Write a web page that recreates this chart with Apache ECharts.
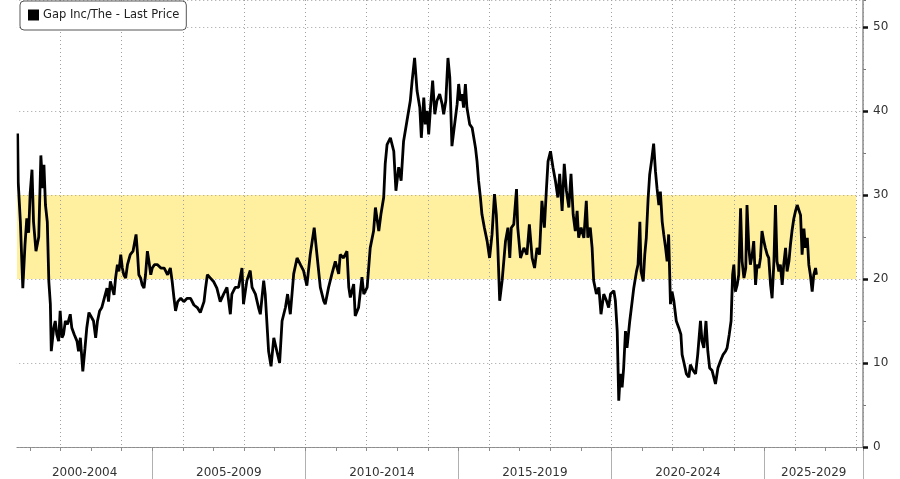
<!DOCTYPE html>
<html><head><meta charset="utf-8">
<script src="https://cdn.jsdelivr.net/npm/echarts@6/dist/echarts.min.js"></script>
<style>html,body{margin:0;padding:0;background:#fff;overflow:hidden}#c{width:900px;height:479px}</style>
</head><body><div id="c"></div>
<script>
const seriesName = 'Gap Inc/The - Last Price';
// decimal years of each reading
const dates = [
2000.60,2000.62,2000.69,2000.77,2000.84,2000.90,2000.96,2001.01,2001.07,2001.12,2001.20,2001.29,2001.36,2001.42,2001.46,2001.51,2001.57,2001.62,2001.67,2001.70,
2001.78,2001.83,2001.88,2001.94,2001.99,2002.05,2002.10,2002.16,2002.23,2002.32,2002.37,2002.45,2002.54,2002.59,2002.65,2002.69,2002.73,2002.80,2002.86,2002.93,
2002.99,2003.08,2003.15,2003.21,2003.28,2003.35,2003.43,2003.52,2003.57,2003.63,2003.69,2003.75,2003.80,2003.86,2003.91,2003.97,2004.02,2004.07,2004.13,2004.19,
2004.28,2004.37,2004.47,2004.52,2004.56,2004.62,2004.67,2004.73,2004.78,2004.84,2004.89,2004.95,2005.00,2005.07,2005.17,2005.28,2005.39,2005.50,2005.59,2005.65,
2005.71,2005.76,2005.83,2005.93,2006.03,2006.14,2006.25,2006.36,2006.47,2006.57,2006.63,2006.69,2006.74,2006.80,2006.90,2007.00,2007.11,2007.22,
2007.33,2007.44,2007.55,2007.60,2007.71,2007.82,2007.93,2007.98,2008.09,2008.20,2008.26,2008.37,2008.47,2008.53,2008.64,2008.69,2008.80,2008.88,2008.97,2009.07,
2009.16,2009.24,2009.35,2009.42,2009.51,2009.62,2009.73,2009.84,2009.94,2010.05,2010.16,2010.29,2010.38,2010.49,2010.60,2010.65,2010.76,2010.87,2010.98,2011.09,
2011.14,2011.25,2011.36,2011.42,2011.47,2011.58,2011.63,2011.74,2011.85,2011.91,2012.02,2012.12,2012.23,2012.29,2012.40,2012.47,2012.56,2012.61,2012.67,2012.78,
2012.89,2012.96,2013.05,2013.13,2013.21,2013.32,2013.43,2013.49,2013.57,2013.65,2013.74,
2013.79,2013.87,2013.92,2013.98,2014.03,2014.09,2014.16,2014.23,2014.30,2014.39,2014.47,2014.52,2014.59,2014.66,2014.72,2014.79,2014.85,2014.96,2015.01,2015.07,
2015.12,2015.17,2015.23,2015.28,2015.37,2015.45,2015.56,2015.61,2015.66,2015.72,2015.77,2015.85,2015.94,2016.02,2016.10,2016.18,2016.24,2016.29,2016.35,2016.43,
2016.54,2016.62,2016.68,2016.73,2016.81,2016.90,2016.94,2017.03,2017.14,2017.24,2017.32,2017.41,2017.49,2017.57,2017.65,2017.73,2017.81,2017.88,2017.93,2018.01,
2018.09,2018.17,2018.25,2018.31,2018.39,2018.46,2018.53,2018.61,2018.68,2018.75,2018.82,2018.88,2018.93,2019.01,2019.10,2019.18,2019.23,2019.31,2019.37,2019.42,
2019.51,2019.59,2019.66,2019.75,2019.84,2019.91,2019.97,2020.08,
2020.13,2020.19,2020.24,2020.29,2020.35,2020.40,2020.46,2020.51,2020.60,2020.68,2020.73,2020.82,2020.87,2020.93,2020.97,2021.04,2021.09,2021.14,2021.20,2021.25,
2021.31,2021.38,2021.44,2021.49,2021.55,2021.60,2021.66,2021.71,2021.77,2021.82,2021.87,2021.93,2021.98,2022.04,2022.12,2022.20,2022.27,2022.31,2022.36,2022.45,
2022.53,2022.58,2022.67,2022.75,2022.82,2022.91,2022.96,2023.02,2023.09,2023.15,2023.21,2023.29,2023.40,2023.48,2023.56,2023.65,2023.73,2023.78,2023.85,2023.91,
2023.96,2024.00,2024.05,2024.11,2024.16,2024.22,2024.27,2024.33,2024.39,2024.43,2024.49,2024.54,2024.60,2024.65,2024.71,2024.76,2024.82,2024.87,2024.92,2024.98,
2025.03,2025.09,2025.14,2025.20,2025.25,2025.31,2025.36,2025.41,2025.47,2025.52,2025.58,2025.63,2025.69,2025.74,2025.80,2025.85,2025.90,2025.96,2026.01,2026.07,
2026.12,2026.18,2026.23,2026.29,2026.34,2026.40,2026.45,2026.50,2026.56,2026.61,2026.67,2026.70
];
// last price (USD) at each reading
const prices = [
37.3,31.5,26.8,18.9,24.0,27.2,25.5,30.2,33.0,26.8,23.3,25.0,34.7,30.8,33.6,28.8,26.8,19.7,17.0,11.4,
14.2,15.0,13.4,12.6,16.2,13.0,13.4,15.0,14.6,15.8,14.2,13.4,12.6,11.4,13.0,11.0,9.0,11.7,14.2,16.0,
15.6,15.0,13.0,15.0,16.2,16.6,17.7,18.9,17.3,19.7,18.9,18.1,20.1,21.7,20.9,22.9,21.3,20.5,20.1,21.7,
22.9,23.3,25.3,22.9,20.5,20.1,19.3,18.9,20.5,23.3,22.1,20.5,21.3,21.7,21.7,21.3,21.3,20.5,21.3,19.7,
17.7,16.2,17.3,17.7,17.3,17.7,17.7,16.9,16.6,16.0,16.2,17.3,18.9,20.5,20.1,19.7,18.9,17.3,
18.2,19.0,15.8,18.2,19.0,19.0,21.3,17.0,19.8,21.0,19.0,18.2,16.6,15.8,19.8,18.2,11.4,9.6,13.0,11.4,
10.0,15.0,16.6,18.2,15.8,20.6,22.5,21.7,21.0,19.2,22.9,26.1,22.9,19.0,17.4,17.0,19.0,20.6,22.1,20.6,
22.9,22.5,23.3,19.0,17.8,19.4,15.6,16.6,20.2,18.2,19.0,23.7,25.7,28.5,25.7,27.7,29.7,33.7,36.0,36.8,
35.2,30.5,33.3,31.7,36.4,38.8,41.2,43.6,46.3,42.4,40.4,
36.8,41.6,38.4,40.0,37.2,40.4,43.6,39.6,41.2,42.0,40.8,39.6,41.2,46.3,44.0,35.8,37.6,40.8,43.2,41.2,
42.0,40.4,43.2,40.4,38.4,38.0,35.6,34.0,31.7,29.7,27.7,26.1,24.5,22.5,25.3,30.1,27.7,23.7,17.4,19.8,
24.5,26.1,22.5,26.1,26.5,30.7,26.1,22.5,23.7,22.9,26.5,22.5,21.3,23.7,22.9,29.3,26.1,30.9,34.0,35.2,
33.3,31.7,29.7,32.5,28.1,33.7,30.5,28.5,32.5,27.7,25.7,28.1,24.9,26.1,24.9,29.3,24.9,26.1,23.7,19.8,
18.2,19.0,15.8,18.2,17.4,16.6,18.2,18.6,
17.4,13.8,5.5,8.7,7.1,9.4,13.8,11.8,15.0,17.4,18.9,20.9,21.7,26.8,20.9,19.7,22.9,24.9,29.6,32.4,
34.0,36.1,32.8,30.8,28.8,30.4,26.8,25.3,23.7,22.1,25.3,17.0,18.5,17.4,15.0,14.2,13.4,11.0,10.2,8.7,
8.3,9.8,9.1,8.7,11.0,15.0,12.6,11.8,15.0,11.4,9.4,9.1,7.5,9.4,10.2,11.0,11.4,11.8,13.4,15.0,
20.5,21.7,18.5,19.3,20.5,28.4,22.1,20.1,21.3,28.8,23.7,21.7,22.9,24.5,19.3,21.7,21.3,22.5,25.7,24.5,
23.7,22.9,22.5,19.3,17.7,22.1,28.8,22.1,20.9,21.7,19.3,21.7,23.7,20.9,22.1,24.1,25.7,27.2,28.0,28.8,
28.8,27.6,22.9,26.0,23.7,24.9,21.7,20.5,18.5,20.5,21.3,20.5
];
const periodStarts = [2000, 2005, 2010, 2015, 2020, 2025];
const periodLabels = ['2000-2004', '2005-2009', '2010-2014', '2015-2019', '2020-2024', '2025-2029'];
const bandLow = 20, bandHigh = 30;   // shaded range
const bandEndYear = 2028;

// axis extents (layout)
const axisStart = 2000, visibleStart = 2000.58, xMax = 2028.22;
const yMin = 0, yMax = 53.2;
const labelCenters = periodStarts.map(s => (Math.max(s, visibleStart) + Math.min(s + 5, xMax)) / 2);
const labelFor = v => {
  for (let i = 0; i < periodStarts.length; i++) {
    if (v >= periodStarts[i] && v < periodStarts[i] + 5) return periodLabels[i];
  }
  return '';
};

const FONT = "'DejaVu Sans', Verdana, sans-serif";
const data = dates.map((d, i) => [d, prices[i]]);
const dotted = { color: '#a0a0a0', width: 1, type: [1, 3] };
const W = 900, H = 479;
const gridLeft = 17 - (visibleStart - axisStart) * ((W - 37 - 17) / (xMax - visibleStart));

const chart = echarts.init(document.getElementById('c'), null, { renderer: 'canvas' });
chart.setOption({
  animation: false,
  backgroundColor: '#ffffff',
  grid: { left: gridLeft, right: 37, top: 0, bottom: 32, containLabel: false, outerBoundsMode: 'none' },
  legend: {
    left: 20, top: 1,
    padding: [8, 7, 9, 8],
    borderColor: '#555', borderWidth: 1, borderRadius: 4,
    backgroundColor: '#fff',
    icon: 'rect', itemWidth: 11, itemHeight: 11, itemGap: 4,
    textStyle: { fontFamily: FONT, fontSize: 11.5, color: '#222', padding: [0, 0, 0, -1] },
    data: [{ name: seriesName, itemStyle: { color: '#000' } }]
  },
  xAxis: [
    { // yearly ticks + axis line
      type: 'value', min: axisStart, max: xMax, interval: 1, position: 'bottom', offset: 4,
      axisLine: { show: true, lineStyle: { color: '#8c8c8c', width: 1 } },
      axisTick: { show: true, length: 4, lineStyle: { color: '#8c8c8c' } },
      axisLabel: { show: false },
      splitLine: { show: false }
    },
    { // dotted vertical grid every two years
      type: 'value', min: axisStart, max: xMax, interval: 2, position: 'bottom', z: 3,
      axisLine: { show: false }, axisTick: { show: false }, axisLabel: { show: false },
      splitLine: { show: true, lineStyle: dotted }
    },
    { // period separators
      type: 'value', min: axisStart, max: xMax, interval: 5, position: 'bottom', offset: 4,
      axisLine: { show: false },
      axisTick: { show: true, length: 28, lineStyle: { color: '#b0b0b0' } },
      axisLabel: { show: false }, splitLine: { show: false }
    },
    { // period labels
      type: 'value', min: axisStart, max: xMax, position: 'bottom', offset: 4,
      axisLine: { show: false }, axisTick: { show: false }, splitLine: { show: false },
      axisLabel: { show: true, customValues: labelCenters, formatter: v => labelFor(v),
        margin: 16, fontFamily: FONT, fontSize: 12, color: '#333' }
    }
  ],
  yAxis: [
    {
      type: 'value', min: yMin, max: yMax, interval: 10, position: 'right', z: 3,
      axisLine: { show: true, lineStyle: { color: '#8c8c8c', width: 1.5 } },
      axisTick: { show: true, length: 5, lineStyle: { color: '#111', width: 2.5 } },
      axisLabel: { show: true, showMaxLabel: false, margin: 10, fontFamily: FONT, fontSize: 12, color: '#333',
        formatter: v => (v % 10 === 0 ? String(v) : '') },
      splitLine: { show: true, lineStyle: dotted }
    },
    {
      type: 'value', min: yMin, max: yMax, interval: 5, position: 'right',
      axisLine: { show: false },
      axisTick: { show: true, length: 3, lineStyle: { color: '#777' } },
      axisLabel: { show: false }, splitLine: { show: false }
    }
  ],
  graphic: [{
    type: 'rect', left: 0, top: 0, z: 100, silent: true,
    shape: { width: 16.5, height: H },
    style: { fill: '#ffffff' }
  }],
  series: [{
    name: seriesName,
    type: 'line',
    xAxisIndex: 0, yAxisIndex: 0,
    data: data,
    showSymbol: false,
    symbol: 'none',
    lineStyle: { color: '#000', width: 2.8 },
    itemStyle: { color: '#000' },
    markArea: {
      silent: true,
      itemStyle: { color: '#fff0a0' },
      data: [[{ xAxis: visibleStart, yAxis: bandLow }, { xAxis: bandEndYear, yAxis: bandHigh }]]
    }
  }]
});
</script>
</body></html>
